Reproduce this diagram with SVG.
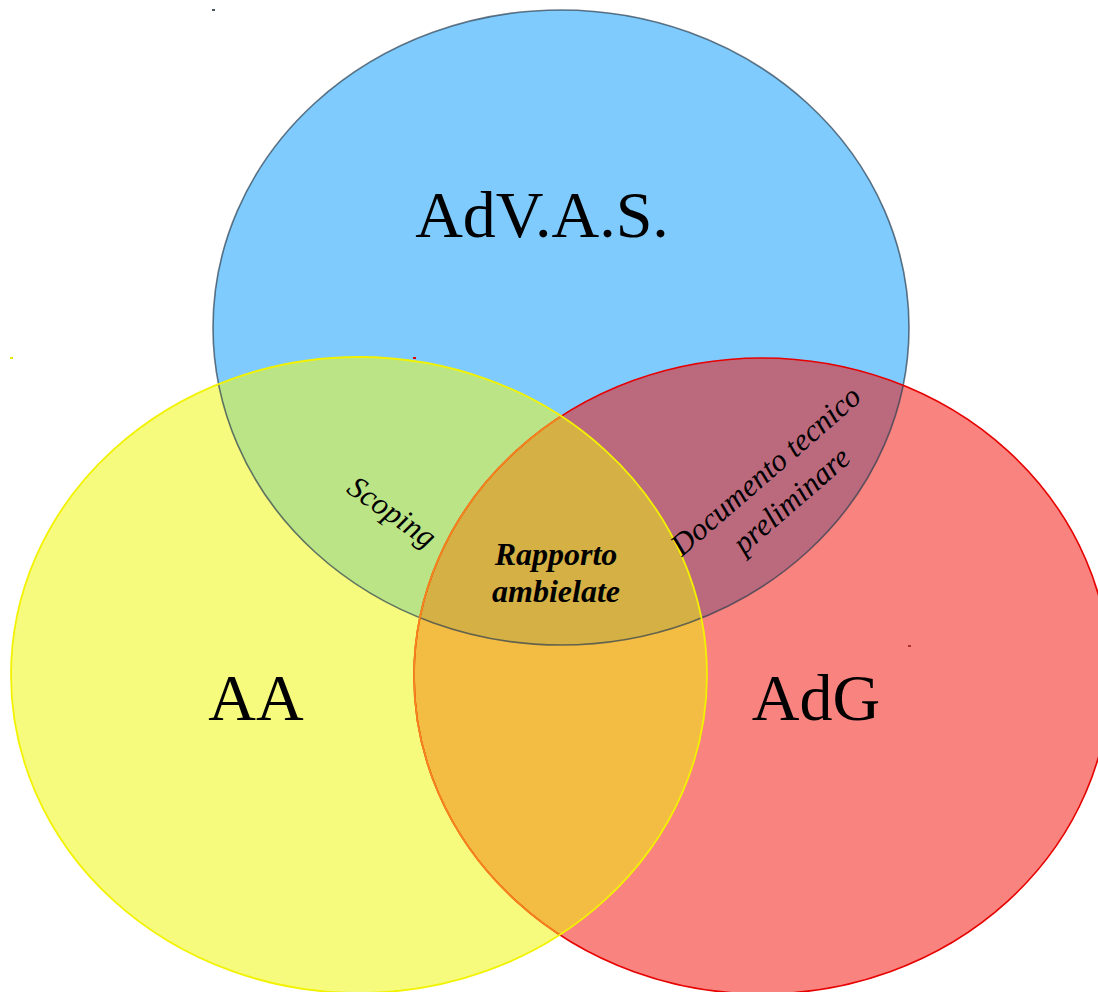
<svg xmlns="http://www.w3.org/2000/svg" xmlns:xlink="http://www.w3.org/1999/xlink" width="1098" height="992" viewBox="0 0 1098 992">
<style>
.big{font-family:"Liberation Serif","Times New Roman",serif;font-size:66px;fill:#000;text-anchor:middle}
.it{font-family:"Liberation Serif","Times New Roman",serif;font-style:italic;font-size:31px;fill:#000;text-anchor:middle}
.bi{font-family:"Liberation Serif","Times New Roman",serif;font-style:italic;font-weight:bold;font-size:32px;fill:#000;text-anchor:middle}
</style>
<defs>
<ellipse id="eB" cx="561" cy="327.5" rx="348" ry="317.5"/>
<ellipse id="eY" cx="359" cy="675" rx="348" ry="318"/>
<ellipse id="eR" cx="762" cy="676" rx="348" ry="318"/>
<clipPath id="cB"><use xlink:href="#eB"/></clipPath>
<clipPath id="cY"><use xlink:href="#eY"/></clipPath>
<clipPath id="cR"><use xlink:href="#eR"/></clipPath>
</defs>
<rect width="1098" height="992" fill="#fff"/>
<g id="circles">
<g id="node-advas"><use xlink:href="#eB" fill="#7fcbfd"/></g>
<g id="node-aa"><use xlink:href="#eY" fill="#f6fb7e"/></g>
<g id="node-adg"><use xlink:href="#eR" fill="#f9837e"/></g>
<g id="overlaps">
<use xlink:href="#eY" fill="#bbe487" clip-path="url(#cB)"/>
<use xlink:href="#eR" fill="#bb6a7e" clip-path="url(#cB)"/>
<use xlink:href="#eR" fill="#f3bd44" clip-path="url(#cY)"/>
<g clip-path="url(#cR)"><use xlink:href="#eY" fill="#d4b045" clip-path="url(#cB)"/></g>
</g>
<g id="outlines" fill="none">
<use xlink:href="#eB" stroke="#2c3e50" stroke-opacity="0.7" stroke-width="1.6"/>
<use xlink:href="#eR" stroke="#e60000" stroke-width="1.6"/>
<use xlink:href="#eR" stroke="#f5861c" stroke-width="1.8" clip-path="url(#cY)"/>
<use xlink:href="#eY" stroke="#f2f200" stroke-width="1.8"/>
</g>
</g>
<g id="specks">
<rect x="212" y="9" width="3" height="2" fill="#4a5a60"/>
<rect x="10" y="357" width="3" height="2" fill="#e8e800"/>
<rect x="413" y="357" width="3" height="2" fill="#e00000"/>
<rect x="908" y="645" width="3" height="2" fill="#b03030"/>
</g>
<g id="labels">
<text class="big" x="542" y="237">AdV.A.S.</text>
<text class="big" x="256" y="720">AA</text>
<text class="big" x="816" y="720">AdG</text>
<text class="bi" x="556" y="565">Rapporto</text>
<text class="bi" x="556" y="602">ambielate</text>
<g transform="translate(392,512) rotate(35)"><text class="it" x="0" y="10">Scoping</text></g>
<g transform="translate(779,486) rotate(-41)"><text class="it" x="0" y="-10">Documento tecnico</text><text class="it" x="0" y="29">preliminare</text></g>
</g>
</svg>
